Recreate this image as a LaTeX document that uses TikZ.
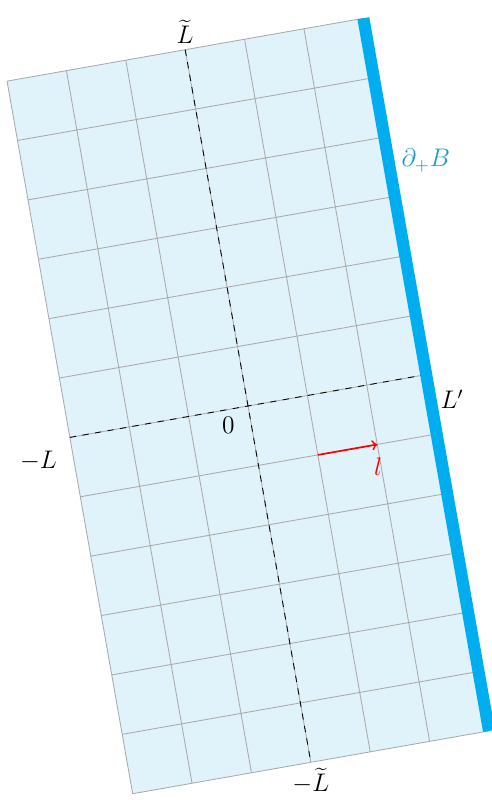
\documentclass[tikz,border=0pt]{standalone}
\definecolor{gridfill}{RGB}{224,242,250}
\definecolor{gridline}{RGB}{170,170,170}
\definecolor{barblue}{RGB}{0,174,239}
\definecolor{bdlabel}{RGB}{30,155,200}
\tikzset{
  gridlines/.style={draw=gridline, line width=0.4pt},
  axisline/.style={draw=black, dashed, line width=0.4pt},
  boundary/.style={draw=barblue, line width=0.2cm},
  vecarrow/.style={draw=red, line width=0.8pt, ->},
  lab/.style={inner sep=0pt, font=\large},
  endlab/.style={font=\large, inner sep=2.5pt}
}
\begin{document}
\begin{tikzpicture}
\useasboundingbox (-4.113,-6.534) rectangle (4.046,6.733);
\begin{scope}[rotate=10]
  \fill[gridfill] (-3,-6) rectangle (3,6);
  \draw[gridlines] (-3,-6) grid (3,6);
  \coordinate (T) at (0,6);
  \coordinate (Bt) at (0,-6);
  \coordinate (Lm) at (-3,0);
  \coordinate (Lp) at (3,0);
  \coordinate (O) at (0,0);
  \coordinate (TR) at (3,6);
  \coordinate (BR) at (3,-6);
  \coordinate (A1) at (1,-1);
  \coordinate (A2) at (2,-1);
  \draw[axisline] (T) -- (Bt);
  \draw[axisline] (Lm) -- (Lp);
  \draw[boundary] (TR) -- (BR);
  \draw[vecarrow] (A1) -- (A2);
\end{scope}
\node[endlab, above] (lt) at (T) {$\widetilde{L}$};
\node[endlab, below] (lb) at (Bt) {$-\widetilde{L}$};
\node[lab] (lm) at (-3.474,-0.907) {$-L$};
\node[lab] (zero) at (-0.327,-0.315) {$0$};
\node[lab] (lpr) at (3.383,0.116) {$L'$};
\node[lab, text=bdlabel] (dB) at (2.949,4.066) {$\partial_+B$};
\node[lab, text=red] (ll) at (2.156,-1.0) {$l$};
\end{tikzpicture}
\end{document}
